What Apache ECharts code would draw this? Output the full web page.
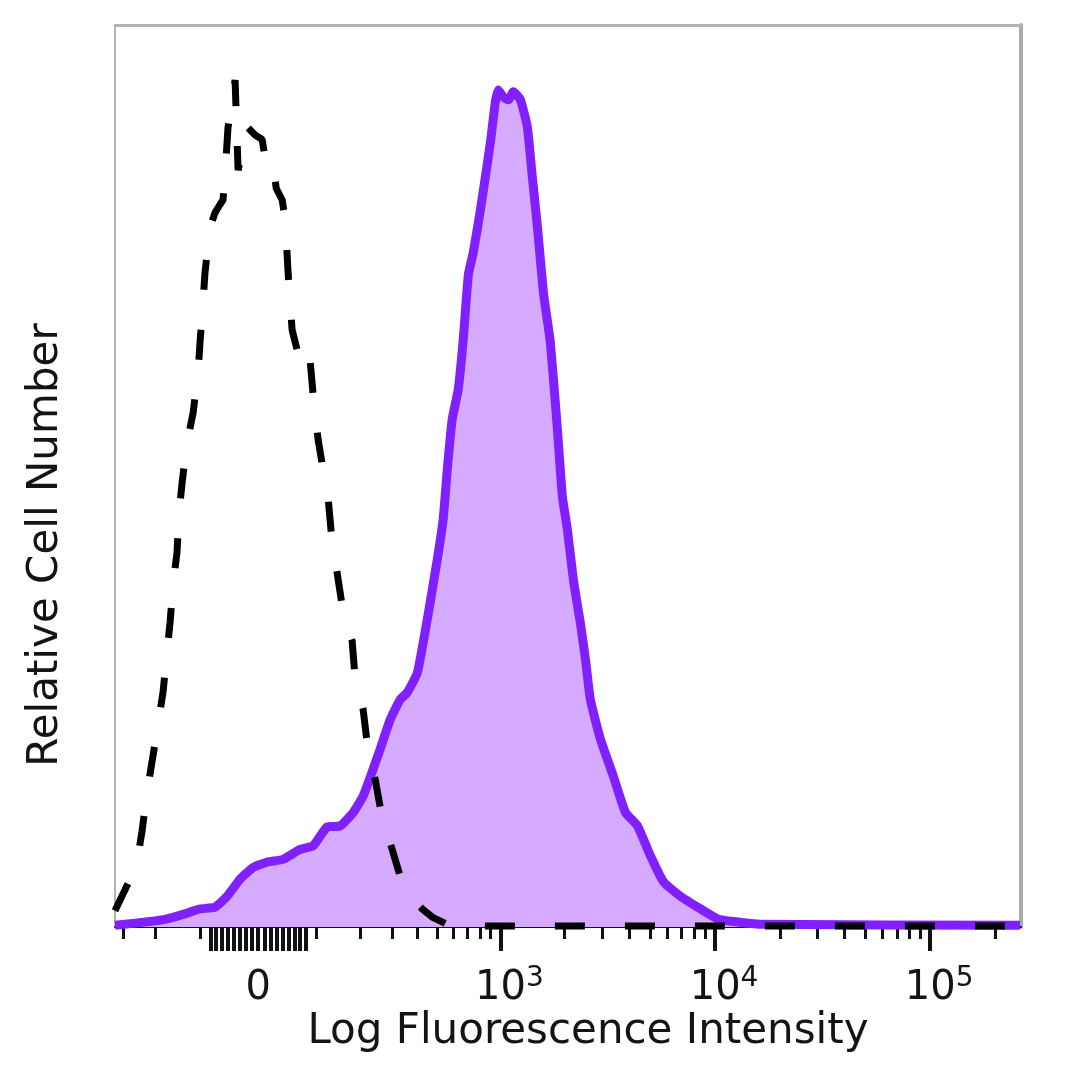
<!DOCTYPE html>
<html>
<head>
<meta charset="utf-8">
<script src="https://cdn.jsdelivr.net/npm/echarts@6/dist/echarts.min.js"></script>
<style>html,body{margin:0;padding:0;background:#fff;}#c{width:1080px;height:1080px;}</style>
</head>
<body>
<div id="c"></div>
<script>
// ---- data (x in biexponential display units: 0 = zero intensity, 1 unit = 1 decade) ----
const ctrlX = [-0.665,-0.633,-0.595,-0.563,-0.540,-0.516,-0.493,-0.465,-0.442,-0.423,-0.409,-0.395,-0.377,-0.367,-0.353,-0.330,-0.302,-0.279,-0.270,-0.256,-0.247,-0.223,-0.200,-0.177,-0.163,-0.153,-0.140,-0.107,-0.093,-0.074,-0.051,-0.014,0.019,0.037,0.070,0.084,0.112,0.126,0.140,0.158,0.181,0.214,0.242,0.260,0.279,0.302,0.326,0.344,0.367,0.395,0.437,0.451,0.488,0.512,0.544,0.577,0.623,0.674,0.730,0.763,0.809,0.870,0.940,1.5,2.5,3.54];
const ctrlY = [1.8,3.4,5.3,7.2,10.5,15.0,18.3,22.5,26.0,30.5,33.8,38.0,41.5,46.0,49.3,53.7,57.0,61.5,64.8,69.2,72.5,77.6,79.2,80.1,80.6,83.6,88.6,93.9,83.9,86.2,88.7,87.8,87.3,84.5,84.7,81.9,80.6,78.4,72.3,66.2,64.0,65.3,62.7,57.9,54.0,50.7,47.4,42.6,39.3,34.9,31.7,27.5,24.1,19.4,16.4,12.0,8.6,4.5,2.8,2.0,1.1,0.4,0.1,0.1,0.1,0.1];
const stainX = [-0.665,-0.502,-0.423,-0.349,-0.270,-0.200,-0.144,-0.084,-0.023,0.042,0.116,0.195,0.256,0.321,0.381,0.442,0.488,0.530,0.567,0.614,0.660,0.693,0.740,0.786,0.833,0.860,0.879,0.902,0.930,0.953,0.977,1.000,1.033,1.079,1.102,1.116,1.140,1.163,1.186,1.219,1.251,1.274,1.298,1.326,1.358,1.391,1.414,1.437,1.465,1.498,1.521,1.544,1.591,1.651,1.707,1.763,1.823,1.884,1.963,2.056,2.135,2.209,2.335,3.54];
const stainY = [0.2,0.6,0.9,1.4,2.0,2.2,3.4,5.3,6.6,7.2,7.5,8.6,9.0,11.1,11.2,12.7,14.5,17.2,19.7,23.0,25.2,26.0,28.2,34.1,40.8,45.2,50.7,56.3,59.6,65.1,72.3,74.8,79.5,86.9,91.4,92.8,92.0,91.7,92.6,91.7,88.7,83.2,77.6,70.3,64.8,55.1,47.7,44.1,38.5,33.6,29.7,25.2,20.8,16.7,12.7,11.2,7.9,5.0,3.4,2.0,0.9,0.6,0.3,0.2];

// tick values in fluorescence intensity
const labelValues = [0, 1000, 10000, 100000];
const tickLabels = ['0', '10^3', '10^4', '10^5'];
const nearZeroTicks = [-80,-70,-60,-50,-40,-30,-20,-10,10,20,30,40,50,60,70,80];
const minorTicks = [-300,-200,-100,100,200,300,400,500,600,700,800,900,2000,3000,4000,5000,6000,7000,8000,9000,20000,30000,40000,50000,60000,70000,80000,90000,200000];

const xMin = -0.665, xMax = 3.545;
const yMax = 100;

// biexponential-like display transform (intensity -> display units)
const C = 150.6;
function T(v) { return Math.asinh(v / C) / Math.LN10; }

const labelMap = {};
labelValues.forEach((v, i) => { labelMap[T(v).toFixed(5)] = tickLabels[i]; });
function fmt(val) {
  const s = labelMap[Number(val).toFixed(5)] || '';
  if (s.indexOf('^') < 0) return '{b|' + s + '}';
  const p = s.split('^');
  return '{pad|}{b|' + p[0] + '}{s|' + p[1] + '}';
}

const FONT = '"DejaVu Sans", Verdana, sans-serif';
const chart = echarts.init(document.getElementById('c'), null, {renderer: 'canvas'});
chart.setOption({
  animation: false,
  backgroundColor: '#ffffff',
  grid: {left: 115, right: 59, top: 25, bottom: 153, show: false},
  xAxis: [
    {
      type: 'value', min: xMin, max: xMax, position: 'bottom', offset: 0,
      axisLine: {show: true, onZero: false, lineStyle: {color: '#111', width: 2}},
      axisTick: {show: true, inside: false, length: 24, lineStyle: {color: '#111', width: 4},
                 customValues: labelValues.concat(nearZeroTicks).map(T)},
      axisLabel: {show: true, margin: 38, customValues: labelValues.map(T), formatter: fmt,
        rich: {
          b: {fontSize: 40, fontFamily: FONT, color: '#141414', lineHeight: 44, verticalAlign: 'bottom'},
          s: {fontSize: 28, fontFamily: FONT, color: '#141414', lineHeight: 30, verticalAlign: 'top'},
          pad: {width: 18, lineHeight: 44}
        }},
      splitLine: {show: false}
    },
    {
      type: 'value', min: xMin, max: xMax, position: 'bottom', offset: 0,
      axisLine: {show: false, onZero: false},
      axisTick: {show: true, inside: false, length: 12, lineStyle: {color: '#111', width: 3},
                 customValues: minorTicks.map(T)},
      axisLabel: {show: false},
      splitLine: {show: false}
    },
    {
      type: 'value', min: xMin, max: xMax, position: 'top',
      axisLine: {show: true, onZero: false, lineStyle: {color: '#b4b4b4', width: 3}},
      axisTick: {show: false}, axisLabel: {show: false}, splitLine: {show: false}
    }
  ],
  yAxis: [
    {
      type: 'value', min: 0, max: yMax, position: 'left',
      axisLine: {show: true, onZero: false, lineStyle: {color: '#b4b4b4', width: 2}},
      axisTick: {show: false}, axisLabel: {show: false}, splitLine: {show: false}
    },
    {
      type: 'value', min: 0, max: yMax, position: 'right',
      axisLine: {show: true, onZero: false, lineStyle: {color: '#aaaaaa', width: 4}},
      axisTick: {show: false}, axisLabel: {show: false}, splitLine: {show: false}
    }
  ],
  series: [
    {
      type: 'line', name: 'Stained', xAxisIndex: 0, yAxisIndex: 0,
      data: stainX.map((x, i) => [x, stainY[i]]),
      showSymbol: false, smooth: 0.15,
      lineStyle: {color: '#8020ff', width: 9, join: 'round'},
      areaStyle: {color: '#d6aaff', opacity: 1},
      z: 2
    },
    {
      type: 'line', name: 'Control', xAxisIndex: 0, yAxisIndex: 0,
      data: ctrlX.map((x, i) => [x, ctrlY[i]]),
      showSymbol: false, smooth: false,
      lineStyle: {color: '#000', width: 7, type: [30, 40], cap: 'butt'},
      z: 3
    }
  ],
  graphic: [
    {type: 'text', x: 588, y: 1032, z: 10,
     style: {text: 'Log Fluorescence Intensity', font: '42px ' + FONT, fill: '#141414', align: 'center', verticalAlign: 'middle'}},
    {type: 'text', x: 46, y: 545, rotation: Math.PI / 2, z: 10,
     style: {text: 'Relative Cell Number', font: '42px ' + FONT, fill: '#141414', align: 'center', verticalAlign: 'middle'}}
  ]
});
</script>
</body>
</html>
